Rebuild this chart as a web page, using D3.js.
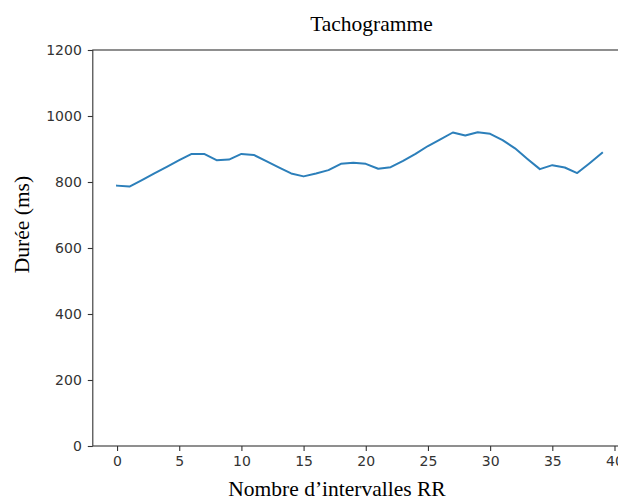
<!DOCTYPE html>
<html>
<head>
<meta charset="utf-8">
<script src="https://cdn.jsdelivr.net/npm/d3@7"></script>
<style>
  html, body { margin: 0; padding: 0; background: #fff; }
  svg { display: block; }
</style>
</head>
<body>
<svg id="chart" width="618" height="504"></svg>
<script>
const titleText = "Tachogramme";
const xLabelText = "Nombre d’intervalles RR";
const yLabelText = "Durée (ms)";
const xTicks = [0, 5, 10, 15, 20, 25, 30, 35, 40];
const yTicks = [0, 200, 400, 600, 800, 1000, 1200];
const rrIndex = d3.range(40);
const rrValues = [789, 786, 806, 826, 846, 866, 885, 885, 866, 868,
                  885, 882, 863, 844, 826, 817, 826, 836, 855, 858,
                  855, 840, 845, 864, 885, 909, 929, 950, 941, 951,
                  946, 927, 902, 870, 839, 851, 844, 827, 857, 888];

(function () {
const svg = d3.select("#chart");
const plotLeft = 92.8, plotTop = 50, plotBottom = 446;
const x = d3.scaleLinear().domain([-1.95, 40.95]).range([plotLeft, plotLeft + 42.9 * 12.436]);
const y = d3.scaleLinear().domain([0, 1200]).range([plotBottom, plotTop]);

const axisColor = "#333";
const tickFont = "'DejaVu Sans', sans-serif";
const serif = "'Liberation Serif', 'Times New Roman', serif";

// frame
svg.append("rect")
  .attr("x", x.range()[0]).attr("y", plotTop)
  .attr("width", x.range()[1] - x.range()[0]).attr("height", plotBottom - plotTop)
  .attr("fill", "none").attr("stroke", axisColor).attr("stroke-width", 1.1);

// x axis
const xAxis = d3.axisBottom(x).tickValues(xTicks).tickSize(5).tickPadding(5)
  .tickFormat(d3.format("d"));
const gx = svg.append("g").attr("transform", `translate(0,${plotBottom})`).call(xAxis);
gx.select(".domain").remove();
gx.selectAll(".tick line").attr("stroke", axisColor).attr("stroke-width", 1.1);
gx.selectAll(".tick text").attr("fill", axisColor).style("font-family", tickFont).style("font-size", "14px");

// y axis
const yAxis = d3.axisLeft(y).tickValues(yTicks).tickSize(5).tickPadding(6)
  .tickFormat(d3.format("d"));
const gy = svg.append("g").attr("transform", `translate(${plotLeft},0)`).call(yAxis);
gy.select(".domain").remove();
gy.selectAll(".tick line").attr("stroke", axisColor).attr("stroke-width", 1.1);
gy.selectAll(".tick text").attr("fill", axisColor).style("font-family", tickFont).style("font-size", "14px");

// line
const line = d3.line().x((d, i) => x(rrIndex[i])).y(d => y(d));
svg.append("path")
  .datum(rrValues)
  .attr("d", line)
  .attr("fill", "none")
  .attr("stroke", "#2c7fba")
  .attr("stroke-width", 2)
  .attr("stroke-linejoin", "round")
  .attr("stroke-linecap", "square");

// title
svg.append("text")
  .attr("x", 371.5).attr("y", 31)
  .attr("text-anchor", "middle")
  .style("font-family", serif).style("font-size", "21.5px").attr("fill", "#000")
  .text(titleText);

// x label
svg.append("text")
  .attr("x", 337).attr("y", 496)
  .attr("text-anchor", "middle")
  .style("font-family", serif).style("font-size", "21.5px").attr("fill", "#000")
  .text(xLabelText);

// y label
svg.append("text")
  .attr("transform", "translate(28.5,224.5) rotate(-90)")
  .attr("text-anchor", "middle")
  .style("font-family", serif).style("font-size", "21.5px").attr("fill", "#000")
  .text(yLabelText);
})();
</script>
</body>
</html>
